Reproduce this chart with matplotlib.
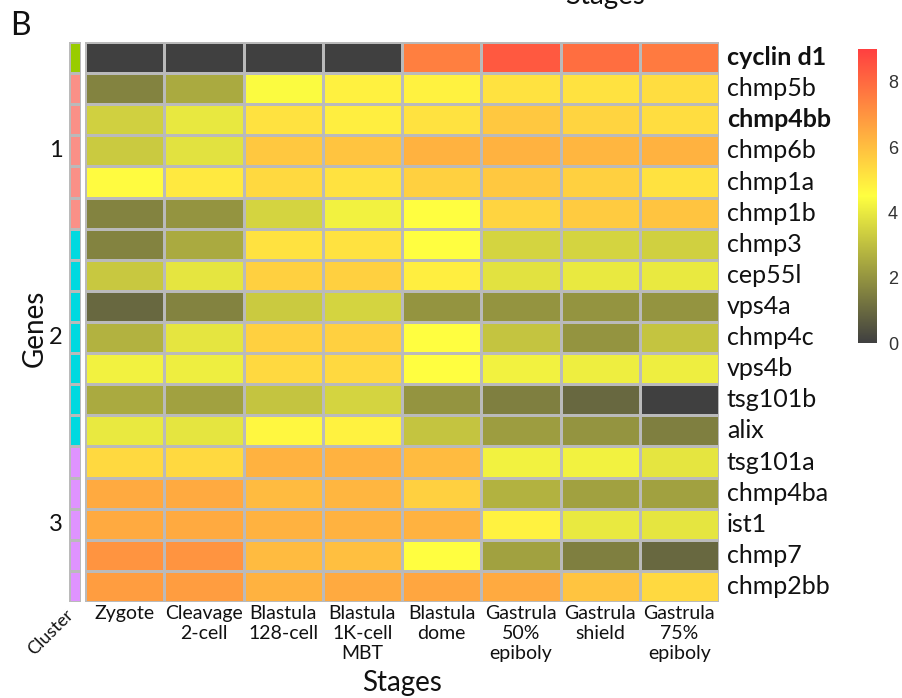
import numpy as np
import matplotlib
matplotlib.use("Agg")
import matplotlib.pyplot as plt
from matplotlib.colors import LinearSegmentedColormap, ListedColormap, Normalize

plt.rcParams['font.family'] = ['Lato', 'DejaVu Sans']

# ---------------- data ----------------
genes = ["cyclin d1", "chmp5b", "chmp4bb", "chmp6b", "chmp1a", "chmp1b",
         "chmp3", "cep55l", "vps4a", "chmp4c", "vps4b", "tsg101b", "alix",
         "tsg101a", "chmp4ba", "ist1", "chmp7", "chmp2bb"]
bold_genes = ["cyclin d1", "chmp4bb"]
stages = ["Zygote", "Cleavage\n2-cell", "Blastula\n128-cell", "Blastula\n1K-cell\nMBT",
          "Blastula\ndome", "Gastrula\n50%\nepiboly", "Gastrula\nshield", "Gastrula\n75%\nepiboly"]

zygote   = [0.0, 1.6, 3.4, 3.25, 4.6, 1.6, 1.6, 3.2, 0.95, 2.7, 4.2, 2.5, 4.0, 5.4, 6.5, 6.5, 7.0, 6.8]
cleavage = [0.0, 2.5, 3.95, 3.8, 5.0, 2.0, 2.5, 3.9, 1.6, 3.9, 4.1, 2.3, 3.9, 5.4, 6.5, 6.5, 7.0, 6.8]
bl_128   = [0.0, 4.4, 5.2, 5.8, 5.4, 3.5, 5.2, 5.6, 3.25, 5.6, 5.4, 3.1, 4.7, 6.3, 6.1, 6.3, 6.1, 6.3]
bl_1k    = [0.0, 4.85, 4.9, 5.9, 5.2, 4.2, 5.2, 5.6, 3.5, 5.6, 5.4, 3.5, 4.8, 6.3, 6.2, 6.3, 6.0, 6.5]
bl_dome  = [7.5, 4.8, 5.2, 6.3, 5.6, 4.5, 4.5, 4.9, 2.0, 4.5, 4.5, 2.0, 3.1, 6.1, 5.6, 6.3, 4.5, 6.6]
ga_50    = [8.4, 5.2, 5.8, 6.3, 5.8, 5.5, 3.5, 3.8, 2.0, 3.1, 4.2, 1.5, 2.2, 4.2, 2.7, 4.8, 2.3, 6.5]
ga_shld  = [7.9, 5.2, 5.5, 6.2, 5.6, 5.7, 3.5, 4.0, 2.0, 2.0, 4.1, 0.95, 2.0, 4.2, 2.3, 4.0, 1.5, 5.9]
ga_75    = [7.6, 5.3, 5.3, 6.3, 5.2, 5.9, 3.4, 4.0, 2.0, 3.1, 4.1, 0.0, 1.5, 3.9, 2.3, 3.9, 0.95, 5.4]

cluster_of_gene = [0, 1, 1, 1, 1, 1, 2, 2, 2, 2, 2, 2, 2, 3, 3, 3, 3, 3]
cluster_names = ["", "1", "2", "3"]
cluster_colors = ["#99cc00", "#fa9087", "#00d9e0", "#df93ff"]
cbar_ticks = [0, 2, 4, 6, 8]

values = np.column_stack([zygote, cleavage, bl_128, bl_1k, bl_dome, ga_50, ga_shld, ga_75])

# ---------------- figure ----------------
W, H = 902, 698
fig = plt.figure(figsize=(W / 100, H / 100), dpi=100)

def ax_px(x0, y0, x1, y1):
    return fig.add_axes([x0 / W, 1 - y1 / H, (x1 - x0) / W, (y1 - y0) / H])

cmap = LinearSegmentedColormap.from_list("gyr", ["#404040", "#ffff40", "#ff4040"])
norm = Normalize(vmin=0, vmax=9)
edge = "#bababa"

# heatmap
ax = ax_px(85, 42, 719, 602)
nr, nc = values.shape
ax.pcolormesh(np.arange(nc + 1), np.arange(nr + 1), values, cmap=cmap, norm=norm,
              edgecolors=edge, linewidth=0.8)
ax.set_xlim(0, nc)
ax.set_ylim(nr, 0)
ax.set_xticks([])
ax.set_yticks([])
for s in ax.spines.values():
    s.set_visible(False)

for i, g in enumerate(genes):
    ax.text(nc + 0.1, i + 0.5, g, ha="left", va="center", fontsize=18,
            fontweight="bold" if g in bold_genes else "normal", color="#111111")
for j, st in enumerate(stages):
    ax.text(j + 0.5, nr + 0.1, st, ha="center", va="top", fontsize=14,
            linespacing=1.22, color="#111111")

# cluster bar
axc = ax_px(69, 42, 81, 602)
cl = np.array(cluster_of_gene).reshape(-1, 1)
axc.pcolormesh(np.arange(2), np.arange(nr + 1), cl, cmap=ListedColormap(cluster_colors),
               vmin=-0.5, vmax=len(cluster_colors) - 0.5, edgecolors=edge, linewidth=0.8)
axc.set_xlim(0, 1)
axc.set_ylim(nr, 0)
axc.set_xticks([])
axc.set_yticks([])
for s in axc.spines.values():
    s.set_visible(False)
cl_arr = np.array(cluster_of_gene)
for k, name in enumerate(cluster_names):
    if not name:
        continue
    idx = np.where(cl_arr == k)[0]
    centre = (idx.min() + idx.max() + 1) / 2
    axc.text(-0.55, centre, name, ha="right", va="center", fontsize=17, color="#111111")
axc.text(-0.3, nr + 0.15, "Cluster", rotation=45, ha="right", va="top",
         fontsize=13, color="#111111", rotation_mode="anchor")

# colorbar
axb = ax_px(858, 49, 877, 343)
grad = np.linspace(0, 9, 256).reshape(-1, 1)
axb.imshow(grad, aspect="auto", cmap=cmap, norm=norm, origin="lower",
           extent=[0, 1, 0, 9])
axb.set_xticks([])
axb.yaxis.tick_right()
axb.set_yticks(cbar_ticks)
axb.set_yticklabels([str(t) for t in cbar_ticks], family="Liberation Sans",
                    fontsize=13, color="#333333")
axb.tick_params(axis="y", length=0, pad=8)
for s in axb.spines.values():
    s.set_visible(False)

# axis titles
fig.text(402 / W, 1 - 691 / H, "Stages", ha="center", va="baseline", fontsize=20, color="#111111")
fig.text(605 / W, 1 - 4 / H, "Stages", ha="center", va="baseline", fontsize=20, color="#111111")
fig.text(35 / W, 1 - 328 / H, "Genes", ha="center", va="center", rotation=90,
         fontsize=20, color="#111111")
fig.text(10 / W, 1 - 35 / H, "B", ha="left", va="baseline", fontsize=23, color="#111111")

fig.savefig("out.png", dpi=100)
